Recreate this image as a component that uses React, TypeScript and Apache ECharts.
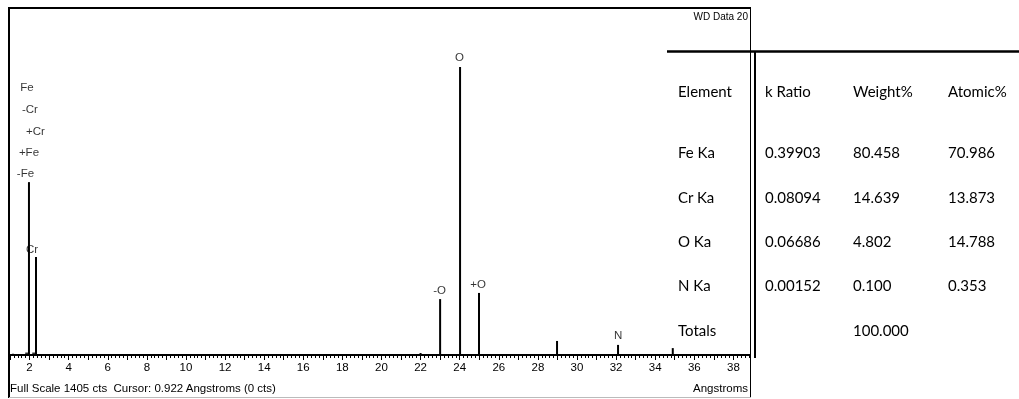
import React, { useEffect, useRef } from "react";
import * as echarts from "echarts";

// Spectrum peaks: [Angstroms, counts]
const peakPositions = [1.15, 1.97, 2.33, 22.0, 23.0, 24.02, 24.99, 28.98, 32.1, 34.9];
const peakCounts = [5, 702, 398, 8, 227, 1169, 252, 57, 41, 28];

// Element marker labels: text, Angstroms, counts (label centre)
const markerTexts = ["Fe", "-Cr", "+Cr", "+Fe", "-Fe", "Cr", "O", "-O", "+O", "N"];
const markerX = [1.87, 2.02, 2.3, 1.97, 1.79, 2.13, 23.99, 22.97, 24.94, 32.1];
const markerY = [1088, 999, 910, 824, 739, 430, 1210, 264, 288, 81];

// small base markers
const baseMarkX = [1.88, 2.24];

// Table
const tableHeader = ["Element", "k Ratio", "Weight%", "Atomic%"];
const tableElements = ["Fe Ka", "Cr Ka", "O Ka", "N Ka", "Totals"];
const tableKRatio = ["0.39903", "0.08094", "0.06686", "0.00152", ""];
const tableWeight = ["80.458", "14.639", "4.802", "0.100", "100.000"];
const tableAtomic = ["70.986", "13.873", "14.788", "0.353", ""];

const fullScale = 1405;

export default function App() {
  const ref = useRef<HTMLDivElement>(null);
  useEffect(() => {
    document.body.style.margin = "0";
    const chart = echarts.init(ref.current!, null, { renderer: "svg" });
    const specFont = "Liberation Sans, Arial, sans-serif";
    const tabFont = "Lato, sans-serif";
    const colX = [678, 765, 853, 948];
    const headerY = 91;
    const rowY = [152, 197, 241, 285, 330];
    const graphics: any[] = [];
    // frame
    graphics.push(
      { type: "line", shape: { x1: 9, y1: 8, x2: 9, y2: 398 }, style: { stroke: "#000", lineWidth: 2 } },
      { type: "line", shape: { x1: 8, y1: 8, x2: 751, y2: 8 }, style: { stroke: "#000", lineWidth: 2 } },
      { type: "line", shape: { x1: 750.5, y1: 8, x2: 750.5, y2: 398 }, style: { stroke: "#000", lineWidth: 1 } },
      { type: "line", shape: { x1: 9, y1: 397.5, x2: 751, y2: 397.5 }, style: { stroke: "#bbb", lineWidth: 1 } },
      { type: "line", shape: { x1: 667, y1: 51.5, x2: 1019, y2: 51.5 }, style: { stroke: "#000", lineWidth: 2.5 } },
      { type: "line", shape: { x1: 755, y1: 51, x2: 755, y2: 358 }, style: { stroke: "#000", lineWidth: 2 } }
    );
    graphics.push(
      { type: "text", x: 748, y: 16, style: { text: "WD Data 20", font: `10px ${specFont}`, fill: "#000", align: "right", verticalAlign: "middle" } },
      { type: "text", x: 10, y: 388, style: { text: `Full Scale ${fullScale} cts  Cursor: 0.922 Angstroms (0 cts)`, font: `11.5px ${specFont}`, fill: "#000", align: "left", verticalAlign: "middle" } },
      { type: "text", x: 748, y: 388, style: { text: "Angstroms", font: `11.5px ${specFont}`, fill: "#000", align: "right", verticalAlign: "middle" } }
    );
    tableHeader.forEach((h, i) => {
      graphics.push({ type: "text", x: colX[i], y: headerY, style: { text: h, font: `15px ${tabFont}`, fill: "#000", verticalAlign: "middle" } });
    });
    const cols = [tableElements, tableKRatio, tableWeight, tableAtomic];
    cols.forEach((col, ci) => {
      col.forEach((v, ri) => {
        if (!v) return;
        graphics.push({ type: "text", x: colX[ci], y: rowY[ri], style: { text: v, font: `15px ${tabFont}`, fill: "#000", verticalAlign: "middle" } });
      });
    });

    chart.setOption({
      animation: false,
      grid: { left: 10, width: 740, top: 9, height: 346 },
      xAxis: {
        type: "value",
        min: 1,
        max: 38.85,
        interval: 1,
        axisLine: { show: true, lineStyle: { color: "#000", width: 2 } },
        axisTick: { show: true, length: 5, lineStyle: { color: "#000", width: 1 } },
        minorTick: { show: true, splitNumber: 5, length: 3, lineStyle: { color: "#000", width: 1 } },
        splitLine: { show: false },
        axisLabel: {
          margin: 6,
          color: "#000",
          fontSize: 11.5,
          fontFamily: specFont,
          showMaxLabel: false,
          formatter: (v: number) => (Math.round(v) % 2 === 0 ? String(Math.round(v)) : ""),
        },
      },
      yAxis: { type: "value", min: 0, max: fullScale, show: false },
      series: [
        {
          type: "bar",
          barWidth: 2,
          itemStyle: { color: "#000" },
          data: peakPositions.map((x, i) => [x, peakCounts[i]]),
        },
        {
          type: "scatter",
          symbol: "rect",
          symbolSize: [4, 3],
          itemStyle: { color: "#000" },
          data: baseMarkX.map((x) => [x, 4]),
        },
        {
          type: "scatter",
          symbolSize: 1,
          itemStyle: { color: "rgba(0,0,0,0)" },
          label: {
            show: true,
            position: "inside",
            formatter: (p: any) => p.name,
            color: "#000",
            fontSize: 11.5,
            fontFamily: specFont,
          },
          data: markerTexts.map((t, i) => ({ name: t, value: [markerX[i], markerY[i]] })),
        },
      ],
      graphic: graphics,
    });
    return () => chart.dispose();
  }, []);
  return <div ref={ref} style={{ position: "fixed", left: 0, top: 0, width: 1019, height: 399 }} />;
}
